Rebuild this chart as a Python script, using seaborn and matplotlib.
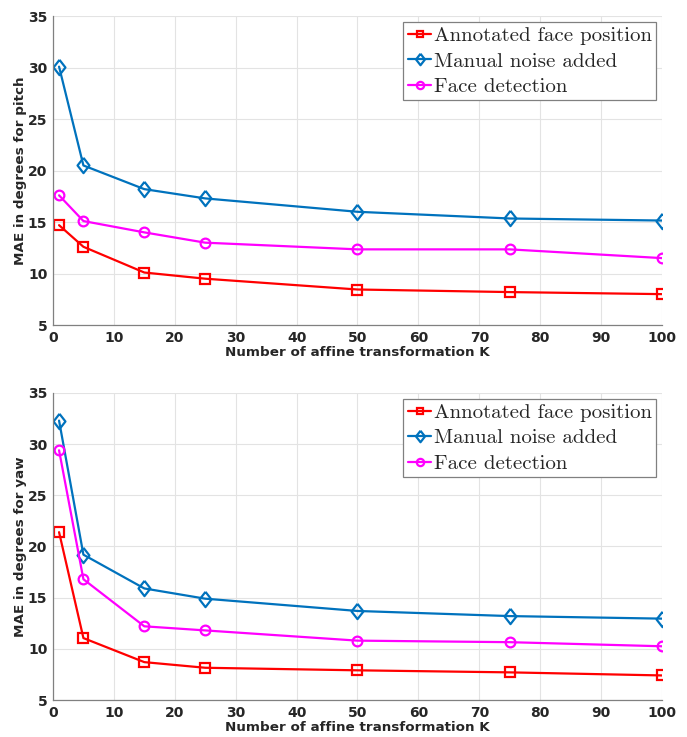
import matplotlib
matplotlib.use('Agg')
import matplotlib.pyplot as plt
import seaborn as sns

# Data
k_values = [1, 5, 15, 25, 50, 75, 100]

pitch_annotated = [14.7, 12.6, 10.1, 9.5, 8.45, 8.2, 8.0]
pitch_noise = [30.1, 20.5, 18.2, 17.3, 16.0, 15.35, 15.15]
pitch_detection = [17.6, 15.1, 14.0, 13.0, 12.35, 12.35, 11.5]

yaw_annotated = [21.4, 11.05, 8.7, 8.15, 7.9, 7.7, 7.4]
yaw_noise = [32.3, 19.2, 15.9, 14.9, 13.7, 13.2, 12.95]
yaw_detection = [29.4, 16.8, 12.2, 11.8, 10.8, 10.65, 10.25]

labels = ['Annotated face position', 'Manual noise added', 'Face detection']
colors = ['#ff0000', '#0072bd', '#ff00ff']
# MATLAB style diamond is a bit wider than matplotlib's thin diamond
diamond = [(0, 1), (0.78, 0), (0, -1), (-0.78, 0), (0, 1)]
markers = ['s', diamond, 'o']
marker_sizes = [6.5, 11, 7]

sns.set_style('white')
plt.rcParams['font.family'] = ['DejaVu Sans']

fig = plt.figure(figsize=(6.87, 7.37), dpi=100)
ax1 = fig.add_axes([0.0771, 0.559, 0.8865, 0.419])
ax2 = fig.add_axes([0.0771, 0.0502, 0.8865, 0.4166])


def draw_panel(ax, series, ylabel):
    for vals, lab, col, mk, ms in zip(series, labels, colors, markers, marker_sizes):
        sns.lineplot(x=k_values, y=vals, ax=ax, color=col, marker=mk, markersize=ms,
                     markerfacecolor='none', markeredgecolor=col, markeredgewidth=1.6,
                     linewidth=1.6, label=lab)
    ax.set_xlim(0, 100)
    ax.set_ylim(5, 35)
    ax.set_xticks(range(0, 101, 10))
    ax.set_yticks(range(5, 36, 5))
    ax.grid(True, color='#e3e3e3', linewidth=0.8)
    ax.set_axisbelow(True)
    for side in ['top', 'right']:
        ax.spines[side].set_visible(False)
    for side in ['left', 'bottom']:
        ax.spines[side].set_color('#808080')
        ax.spines[side].set_linewidth(0.9)
    ax.tick_params(direction='in', length=4, width=0.8, color='#808080',
                   labelsize=10, labelcolor='#262626', pad=4)
    for t in ax.get_xticklabels() + ax.get_yticklabels():
        t.set_fontweight('bold')
    ax.set_xlabel('Number of affine transformation K', fontsize=9.7,
                  fontweight='bold', color='#262626', labelpad=1)
    ax.set_ylabel(ylabel, fontsize=9.7, fontweight='bold', color='#262626', labelpad=1)
    leg = ax.legend(loc='upper right', prop={'family': 'cmr10', 'size': 15},
                    frameon=True, fancybox=False, edgecolor='#808080',
                    handlelength=1.15, handletextpad=0.1, labelspacing=0.33,
                    borderpad=0.2, borderaxespad=0.3, framealpha=1)
    leg.get_frame().set_linewidth(0.9)
    for h in leg.legend_handles:
        h.set_markersize(h.get_markersize() * 0.75)


draw_panel(ax1, [pitch_annotated, pitch_noise, pitch_detection], 'MAE in degrees for pitch')
draw_panel(ax2, [yaw_annotated, yaw_noise, yaw_detection], 'MAE in degrees for yaw')

fig.savefig('out.png', dpi=100)
